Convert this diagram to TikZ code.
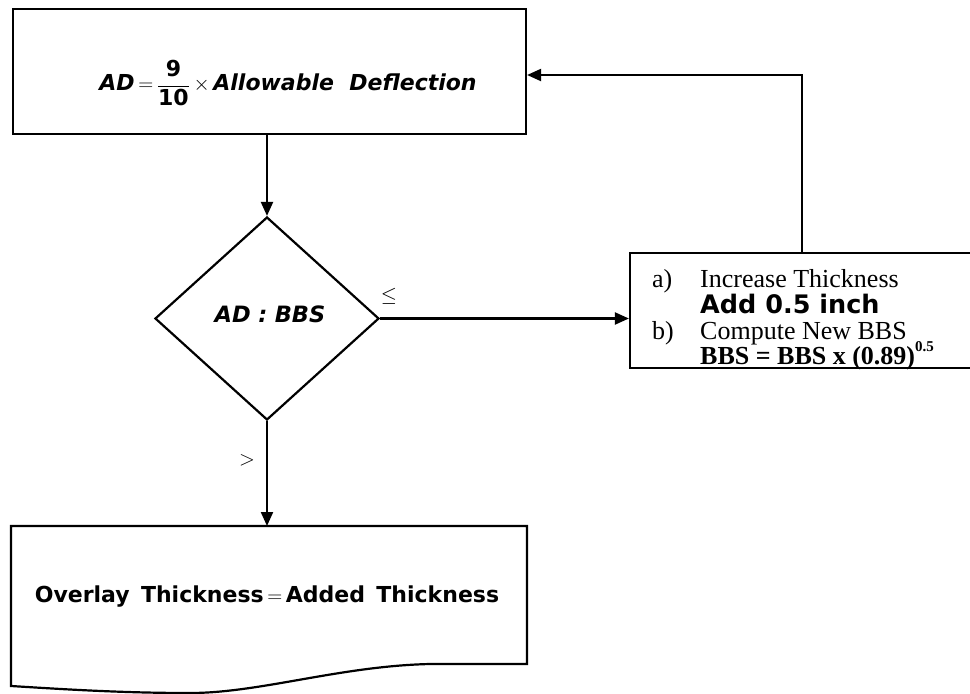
\documentclass[tikz,border=0pt]{standalone}
\usepackage{fontspec}
\setmainfont{Liberation Serif}
\newfontfamily\vsans{DejaVu Sans}
\usetikzlibrary{arrows.meta,shapes.geometric}
\begin{document}
\begin{tikzpicture}[x=1pt,y=-1pt,
  boxline/.style={draw=black, line width=2.2pt},
  arr/.style={line width=2.1pt, -{Triangle[length=14pt,width=12pt]}},
  plain/.style={inner sep=0pt},
]
\useasboundingbox (0,0) rectangle (970,694);
\clip (0,0) rectangle (970,694);

% top box
\node[boxline, minimum width=513pt, minimum height=125pt, inner sep=0pt] (top) at (269.5,71.5) {};
\node[plain] (toptext) at (288,83) {\fontsize{22}{26}\selectfont
  {\vsans\bfseries\itshape AD}\,$=$\,$\displaystyle\frac{\mbox{\vsans\bfseries 9}}{\mbox{\vsans\bfseries 10}}$\,$\times$\,{\vsans\bfseries\itshape Allowable\ \ Deflection}};

% decision diamond
\node[diamond, boxline, minimum width=224pt, minimum height=203pt, inner sep=0pt] (dec) at (267,318.5) {};
\node[plain] (dectext) at (270,314) {\fontsize{22.5}{26}\selectfont\vsans\bfseries\itshape AD\,\,:\,\,BBS};

% right box
\node[boxline, minimum width=370pt, minimum height=115pt, inner sep=0pt] (rb) at (815,310.5) {};
\node[plain, anchor=base west] (ra) at (652,287) {\fontsize{26}{28}\selectfont a)};
\node[plain, anchor=base west] (rat) at (700,287) {\fontsize{26}{28}\selectfont Increase Thickness};
\node[plain, anchor=base west] (rad) at (700,313) {\fontsize{25.5}{28}\selectfont\vsans\bfseries Add 0.5 inch};
\node[plain, anchor=base west] (rb1) at (652,339) {\fontsize{26}{28}\selectfont b)};
\node[plain, anchor=base west] (rbt) at (700,339) {\fontsize{26}{28}\selectfont Compute New BBS};
\node[plain, anchor=base west] (rbf) at (700,364) {\fontsize{26}{28}\selectfont\bfseries BBS = BBS x (0.89)\raisebox{0.5em}{\fontsize{15}{17}\selectfont 0.5}};

% bottom document box
\draw[boxline, line join=miter] (11,526) -- (527,526) -- (527,664) -- (430,664)
  .. controls (340,666) and (260,693) .. (190,693)
  .. controls (120,693) and (60,689) .. (11,686) -- cycle;
\coordinate (bottop) at (267,526);
\node[plain] (bottext) at (267,597) {\fontsize{22}{26}\selectfont{\vsans\bfseries Overlay\ \,Thickness}\,$=$\,{\vsans\bfseries Added\ \,Thickness}};

% connectors
\draw[arr] (dec.north |- top.south) -- (dec.north);
\draw[arr] (dec.east) -- (dec.east -| rb.west);
\draw[arr] (dec.south) -- (bottop);
\draw[arr] ([xshift=173pt]rb.north west) |- ([yshift=-3.5pt]top.east);

% labels
\node[plain] (le) at (389,296) {\fontsize{21}{22}\selectfont$\leq$};
\node[plain] (gt) at (247,460) {\fontsize{21}{22}\selectfont$>$};
\end{tikzpicture}
\end{document}
